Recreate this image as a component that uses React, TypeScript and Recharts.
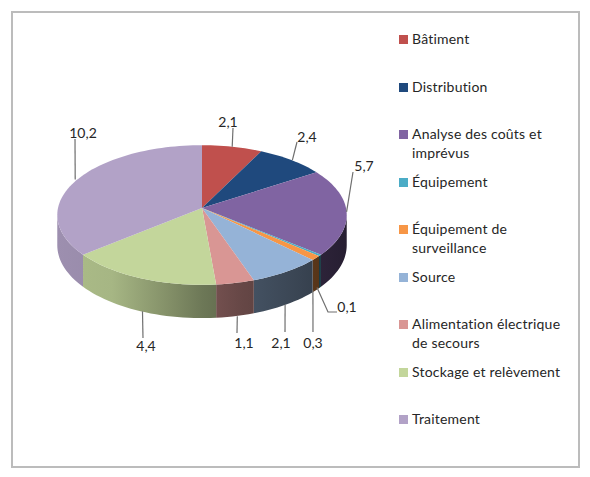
import { PieChart, Pie, Cell, Legend } from 'recharts'

// ─── Data ─────────────────────────────────────────────────────────────────────

const CATEGORIES = [
  'Bâtiment',
  'Distribution',
  'Analyse des coûts et imprévus',
  'Équipement',
  'Équipement de surveillance',
  'Source',
  'Alimentation électrique de secours',
  'Stockage et relèvement',
  'Traitement',
]
const VALUES = [2.1, 2.4, 5.7, 0.1, 0.3, 2.1, 1.1, 4.4, 10.2]
const COLORS = ['#C0504D', '#1F497D', '#8064A2', '#4BACC6', '#F79646', '#95B3D7', '#D99694', '#C3D69B', '#B2A2C7']

const chartData = CATEGORIES.map((name, i) => ({ name, value: VALUES[i] }))

// ─── Layout ───────────────────────────────────────────────────────────────────

const W = 590
const H = 477
const CX = 202
const CY = 208
const RX = 144
const TILT = 0.48 // flatten ratio of the disc
const PERSP = 0.1 // near edge looks bigger than the far edge
const DEPTH = 30

// leader line + text position per slice:
// [start nudge x, elbow x, elbow y, line end x, line end y, text x, text y]
const LABEL_LAYOUT: [number, number, number, number, number, number, number][] = [
  [0, 0, 0, 233, 128, 228, 127],
  [1, 0, 0, 297, 142, 307, 142],
  [0, 0, 0, 353, 172, 364, 171],
  [-3, 328, 312, 337, 312, 347, 312],
  [-3, 0, 0, 313, 332, 313, 348],
  [-1, 0, 0, 285, 332, 281, 348],
  [2, 0, 0, 237, 333, 244, 348],
  [2, 0, 0, 143, 338, 146, 351],
  [-2, 0, 0, 75, 139, 83, 138],
]

// wall brightness going left to right, [x offset from centre, factor]
const WALL_SHADE: [number, number][] = [
  [-145, 0.88], [-90, 0.85], [-30, 0.66], [0, 0.56], [40, 0.47], [100, 0.38], [145, 0.3],
]

// ─── Helpers ──────────────────────────────────────────────────────────────────

// clockwise angle from top, in degrees -> point on the rim of the disc
function rim(a: number, rx: number, cx: number, cy: number, drop = 0) {
  const t = (a * Math.PI) / 180
  const w = 1 + PERSP * Math.cos(t)
  return {
    x: cx + (rx * Math.sin(t)) / w,
    y: cy - (rx * TILT * Math.cos(t)) / w + drop / w,
  }
}

function arcPoints(a1: number, a2: number, rx: number, cx: number, cy: number, drop = 0) {
  const n = Math.max(2, Math.ceil(Math.abs(a2 - a1) / 2))
  const pts: string[] = []
  for (let i = 0; i <= n; i++) {
    const p = rim(a1 + ((a2 - a1) * i) / n, rx, cx, cy, drop)
    pts.push(`${p.x.toFixed(2)} ${p.y.toFixed(2)}`)
  }
  return pts
}

function shade(hex: string, f: number) {
  const n = parseInt(hex.slice(1), 16)
  const c = [(n >> 16) & 255, (n >> 8) & 255, n & 255].map(v => Math.round(v * f))
  return `rgb(${c.join(',')})`
}

const SIDE_MIN = 95.7
const SIDE_MAX = 264.3

// ─── Slice ────────────────────────────────────────────────────────────────────

function Slice3D(props: any) {
  const { cx, cy, outerRadius, startAngle, endAngle, fill, index } = props
  const a1 = 90 - startAngle
  const a2 = 90 - endAngle
  const top = arcPoints(a1, a2, outerRadius, cx, cy)
  const w1 = Math.max(a1, SIDE_MIN)
  const w2 = Math.min(a2, SIDE_MAX)
  const gid = `wall-${index}`
  return (
    <g>
      {w2 > w1 && (
        <>
          <defs>
            <linearGradient id={gid} gradientUnits="userSpaceOnUse" x1={cx - 145} x2={cx + 145} y1={0} y2={0}>
              {WALL_SHADE.map(([x, f]) => (
                <stop key={x} offset={(x + 145) / 290} stopColor={shade(fill, f)} />
              ))}
            </linearGradient>
          </defs>
          <path
            fill={`url(#${gid})`}
            d={`M${arcPoints(w1, w2, outerRadius, cx, cy).join('L')}L${arcPoints(w2, w1, outerRadius, cx, cy, DEPTH).join('L')}Z`}
          />
        </>
      )}
      <path fill={fill} d={`M${cx} ${cy}L${top.join('L')}Z`} />
    </g>
  )
}

// ─── Labels ───────────────────────────────────────────────────────────────────

function SliceLabel(props: any) {
  const { cx, cy, outerRadius, midAngle, index, value } = props
  const a = 90 - midAngle
  const onWall = a > SIDE_MIN && a < SIDE_MAX
  const p = rim(a, outerRadius, cx, cy, onWall ? DEPTH : 0)
  const [nudge, ex, ey, lx, ly, tx, ty] = LABEL_LAYOUT[index]
  const sx = p.x + nudge
  const pts = ex ? `${sx},${p.y} ${ex},${ey} ${lx},${ly}` : `${sx},${p.y} ${lx},${ly}`
  return (
    <g>
      <polyline points={pts} fill="none" stroke="#6f6f6f" strokeWidth={1.2} />
      <text x={tx} y={ty} textAnchor="middle" fontFamily="Lato" fontSize={14} fill="#262626">
        {String(value).replace('.', ',')}
      </text>
    </g>
  )
}

// ─── Legend ───────────────────────────────────────────────────────────────────

function LegendList() {
  return (
    <div style={{ fontFamily: 'Lato', fontSize: 14, lineHeight: '18.5px', letterSpacing: 0.2, color: '#262626' }}>
      {CATEGORIES.map((name, i) => (
        <div key={name} style={{ position: 'relative', height: 47.5, paddingLeft: 13, width: 168, boxSizing: 'border-box' }}>
          <span style={{ position: 'absolute', left: 0, top: 5, width: 9, height: 9, background: COLORS[i] }} />
          {name}
        </div>
      ))}
    </div>
  )
}

export default function App() {
  return (
    <div style={{ position: 'absolute', left: 0, top: 0, width: W, height: H, background: '#fff' }}>
      <div style={{ position: 'absolute', left: 11, top: 11, width: 565, height: 453, border: '2px solid #bcbcbc' }} />
      <PieChart width={W} height={H} margin={{ top: 0, right: 0, bottom: 0, left: 0 }} style={{ position: 'absolute', left: 0, top: 0 }}>
        <Pie
          data={chartData}
          dataKey="value"
          nameKey="name"
          cx={CX}
          cy={CY}
          outerRadius={RX}
          startAngle={90}
          endAngle={-270}
          stroke="none"
          shape={Slice3D}
          label={SliceLabel}
          labelLine={false}
          isAnimationActive={false}
        >
          {chartData.map((d, i) => (
            <Cell key={d.name} fill={COLORS[i]} />
          ))}
        </Pie>
        <Legend
          content={<LegendList />}
          layout="vertical"
          wrapperStyle={{ position: 'absolute', left: 399, top: 30, width: 175, height: 430 }}
        />
      </PieChart>
    </div>
  )
}
